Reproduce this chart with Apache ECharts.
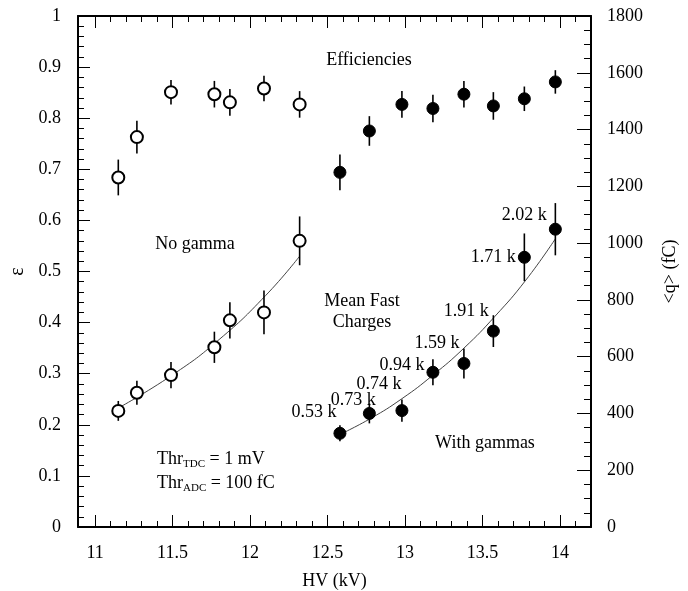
<!DOCTYPE html>
<html>
<head>
<meta charset="utf-8">
<script src="https://cdn.jsdelivr.net/npm/echarts@6/dist/echarts.min.js"></script>
<style>
html,body{margin:0;padding:0;background:#fff;}
#chart{width:688px;height:591px;}
</style>
</head>
<body>
<div id="chart"></div>
<script>
// ---- data ----
const hvNoGamma = [11.15, 11.27, 11.49, 11.77, 11.87, 12.09, 12.32];
const effNoGamma = [0.684, 0.763, 0.851, 0.847, 0.831, 0.858, 0.827];
const effNoGammaErr = [0.035, 0.032, 0.024, 0.026, 0.026, 0.025, 0.026];
const chgNoGamma = [409, 473, 535, 633, 728, 756, 1008];
const chgNoGammaErr = [35, 42, 46, 55, 64, 77, 86];

const hvGamma = [12.58, 12.77, 12.98, 13.18, 13.38, 13.57, 13.77, 13.97];
const effGamma = [0.694, 0.775, 0.827, 0.819, 0.847, 0.824, 0.838, 0.871];
const effGammaErr = [0.035, 0.029, 0.026, 0.027, 0.026, 0.027, 0.024, 0.023];
const chgGamma = [330, 400, 410, 545, 576, 690, 950, 1049];
const chgGammaErr = [28, 35, 39, 46, 53, 56, 84, 92];
const rateLabels = ['0.53 k', '0.73 k', '0.74 k', '0.94 k', '1.59 k', '1.91 k', '1.71 k', '2.02 k'];

const fitNoGammaHV = [11.15, 11.5, 11.8, 12.1, 12.32];
const fitNoGammaQ = [419, 536, 660, 815, 954];
const fitGammaHV = [12.58, 12.78, 12.98, 13.18, 13.38, 13.58, 13.78, 13.97];
const fitGammaQ = [326, 383, 452, 535, 630, 742, 870, 1015];

const xMajorTicks = [11, 11.5, 12, 12.5, 13, 13.5, 14];
const xMinorTicks = [11.1, 11.2, 11.3, 11.4, 11.6, 11.7, 11.8, 11.9, 12.1, 12.2, 12.3, 12.4,
  12.6, 12.7, 12.8, 12.9, 13.1, 13.2, 13.3, 13.4, 13.6, 13.7, 13.8, 13.9, 14.1];

// ---- label placement (pixel offsets from each point) ----
const rateLabelOffsets = [[-26, -21], [-16, -13], [-23, -26], [-31, -7], [-27, -20], [-27, -20], [-31, 0], [-31, -14]];

const FONT = 'Liberation Serif';
const X_MIN = 10.89, X_MAX = 14.2;

function errData(xs, ys, es) {
  return xs.map((x, i) => [x, ys[i] - es[i], ys[i] + es[i]]);
}
function pairs(xs, ys) { return xs.map((x, i) => [x, ys[i]]); }

function errSeries(name, yIdx, data) {
  return {
    name: name, type: 'custom', xAxisIndex: 0, yAxisIndex: yIdx, z: 3,
    data: data, silent: true,
    renderItem: function (params, api) {
      const p1 = api.coord([api.value(0), api.value(1)]);
      const p2 = api.coord([api.value(0), api.value(2)]);
      return { type: 'line', shape: { x1: p1[0], y1: p1[1], x2: p2[0], y2: p2[1] },
        style: { stroke: '#000', lineWidth: 1.6 } };
    }
  };
}

const openMarker = { color: '#fff', borderColor: '#000', borderWidth: 2, opacity: 1 };
const fillMarker = { color: '#000', borderColor: '#000', borderWidth: 1, opacity: 1 };

const baseX = {
  type: 'value', min: X_MIN, max: X_MAX, splitLine: { show: false }, gridIndex: 0
};

const chart = echarts.init(document.getElementById('chart'), null, { renderer: 'canvas' });
chart.setOption({
  backgroundColor: '#fff',
  animation: false,
  textStyle: { fontFamily: FONT },
  grid: { left: 78, right: 97, top: 16, bottom: 64, containLabel: false, outerBoundsMode: 'none' },
  xAxis: [
    Object.assign({}, baseX, {
      position: 'bottom',
      axisLine: { show: true, onZero: false, lineStyle: { color: '#000', width: 2 } },
      axisTick: { show: true, inside: true, length: 12, customValues: xMajorTicks, lineStyle: { color: '#000', width: 1 } },
      axisLabel: { show: true, customValues: xMajorTicks, fontSize: 18, color: '#000', fontFamily: FONT, margin: 17,
        formatter: v => String(v) },
      name: 'HV (kV)', nameLocation: 'middle', nameGap: 45,
      nameTextStyle: { fontSize: 18, color: '#000', fontFamily: FONT }
    }),
    Object.assign({}, baseX, {
      position: 'bottom',
      axisLine: { show: false, onZero: false },
      axisTick: { show: true, inside: true, length: 6, customValues: xMinorTicks, lineStyle: { color: '#000', width: 1 } },
      axisLabel: { show: false }
    }),
    Object.assign({}, baseX, {
      position: 'top',
      axisLine: { show: true, onZero: false, lineStyle: { color: '#000', width: 2 } },
      axisTick: { show: true, inside: true, length: 12, customValues: xMajorTicks, lineStyle: { color: '#000', width: 1 } },
      axisLabel: { show: false }
    }),
    Object.assign({}, baseX, {
      position: 'top',
      axisLine: { show: false, onZero: false },
      axisTick: { show: true, inside: true, length: 6, customValues: xMinorTicks, lineStyle: { color: '#000', width: 1 } },
      axisLabel: { show: false }
    })
  ],
  yAxis: [
    {
      type: 'value', position: 'left', min: 0, max: 1, interval: 0.1,
      splitLine: { show: false },
      axisLine: { show: true, onZero: false, lineStyle: { color: '#000', width: 2 } },
      axisTick: { show: true, inside: true, length: 12, lineStyle: { color: '#000', width: 1 } },
      minorTick: { show: true, splitNumber: 5, length: 6, lineStyle: { color: '#000', width: 1 } },
      minorSplitLine: { show: false },
      axisLabel: { fontSize: 18, color: '#000', fontFamily: FONT, margin: 17,
        formatter: v => (v === 0 ? '0' : (Math.abs(v - 1) < 1e-9 ? '1' : v.toFixed(1))) },
      name: 'ε', nameLocation: 'middle', nameRotate: 90, nameGap: 50,
      nameTextStyle: { fontSize: 20, color: '#000', fontFamily: FONT }
    },
    {
      type: 'value', position: 'right', min: 0, max: 1800, interval: 200,
      splitLine: { show: false },
      axisLine: { show: true, onZero: false, lineStyle: { color: '#000', width: 2 } },
      axisTick: { show: true, inside: true, length: 14, lineStyle: { color: '#000', width: 1 } },
      minorTick: { show: true, splitNumber: 4, length: 7, lineStyle: { color: '#000', width: 1 } },
      minorSplitLine: { show: false },
      axisLabel: { fontSize: 18, color: '#000', fontFamily: FONT, margin: 16, formatter: v => String(v) },
      name: '<q> (fC)', nameLocation: 'middle', nameRotate: 90, nameGap: 70,
      nameTextStyle: { fontSize: 18, color: '#000', fontFamily: FONT }
    }
  ],
  series: [
    // fits
    { name: 'fitNoGamma', type: 'line', xAxisIndex: 0, yAxisIndex: 1, smooth: true, showSymbol: false, z: 2,
      data: pairs(fitNoGammaHV, fitNoGammaQ), lineStyle: { color: '#444', width: 1 }, silent: true },
    { name: 'fitGamma', type: 'line', xAxisIndex: 0, yAxisIndex: 1, smooth: true, showSymbol: false, z: 2,
      data: pairs(fitGammaHV, fitGammaQ), lineStyle: { color: '#444', width: 1 }, silent: true },
    // error bars
    errSeries('effNoGammaErr', 0, errData(hvNoGamma, effNoGamma, effNoGammaErr)),
    errSeries('effGammaErr', 0, errData(hvGamma, effGamma, effGammaErr)),
    errSeries('chgNoGammaErr', 1, errData(hvNoGamma, chgNoGamma, chgNoGammaErr)),
    errSeries('chgGammaErr', 1, errData(hvGamma, chgGamma, chgGammaErr)),
    // markers
    { name: 'effNoGamma', type: 'scatter', xAxisIndex: 0, yAxisIndex: 0, z: 5, symbol: 'circle', symbolSize: 12,
      data: pairs(hvNoGamma, effNoGamma), itemStyle: openMarker },
    { name: 'chgNoGamma', type: 'scatter', xAxisIndex: 0, yAxisIndex: 1, z: 5, symbol: 'circle', symbolSize: 12,
      data: pairs(hvNoGamma, chgNoGamma), itemStyle: openMarker },
    { name: 'effGamma', type: 'scatter', xAxisIndex: 0, yAxisIndex: 0, z: 5, symbol: 'circle', symbolSize: 12,
      data: pairs(hvGamma, effGamma), itemStyle: fillMarker },
    { name: 'chgGamma', type: 'scatter', xAxisIndex: 0, yAxisIndex: 1, z: 5, symbol: 'circle', symbolSize: 12,
      data: hvGamma.map((x, i) => ({
        value: [x, chgGamma[i]],
        label: { show: true, position: 'inside', offset: rateLabelOffsets[i], formatter: rateLabels[i],
          fontSize: 18, color: '#000', opacity: 1, fontFamily: FONT }
      })),
      itemStyle: fillMarker }
  ],
  graphic: [
    { type: 'text', x: 369, y: 60, style: { text: 'Efficiencies', font: '18px "Liberation Serif"', fill: '#000', textAlign: 'center', textVerticalAlign: 'middle' } },
    { type: 'text', x: 195, y: 244, style: { text: 'No gamma', font: '18px "Liberation Serif"', fill: '#000', textAlign: 'center', textVerticalAlign: 'middle' } },
    { type: 'text', x: 362, y: 312, style: { text: 'Mean Fast\nCharges', font: '18px "Liberation Serif"', lineHeight: 21, fill: '#000', textAlign: 'center', textVerticalAlign: 'middle' } },
    { type: 'text', x: 485, y: 443, style: { text: 'With gammas', font: '18px "Liberation Serif"', fill: '#000', textAlign: 'center', textVerticalAlign: 'middle' } },
    { type: 'text', x: 157, y: 459, style: { text: 'Thr{s|TDC} = 1 mV', fontFamily: FONT, fontSize: 18, fill: '#000', textAlign: 'left', textVerticalAlign: 'middle',
      rich: { s: { fontSize: 11, fontFamily: FONT, padding: [10, 0, 0, 0] } } } },
    { type: 'text', x: 157, y: 483, style: { text: 'Thr{s|ADC} = 100 fC', fontFamily: FONT, fontSize: 18, fill: '#000', textAlign: 'left', textVerticalAlign: 'middle',
      rich: { s: { fontSize: 11, fontFamily: FONT, padding: [10, 0, 0, 0] } } } }
  ]
});
</script>
</body>
</html>
